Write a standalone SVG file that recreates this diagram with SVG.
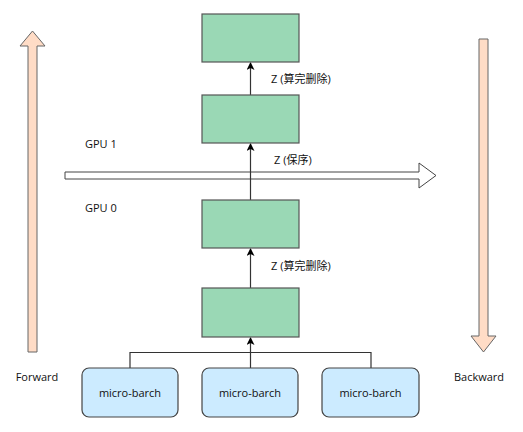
<svg xmlns="http://www.w3.org/2000/svg" width="523" height="432" viewBox="0 0 523 432">
<style>
.blk{fill:#9AD8B5;stroke:#555;stroke-width:1.2}
.mb{fill:#CCEBFF;stroke:#444;stroke-width:1.2}
.big{fill:#FFDCC6;stroke:#666;stroke-width:1}
.t{font-family:"Open Sans","Noto Sans CJK SC","Liberation Sans",sans-serif;font-size:11px;fill:#111}
.c{text-anchor:middle}
.ln{fill:none;stroke:#333;stroke-width:1.2}
</style>
<defs>
<marker id="ah" markerWidth="8" markerHeight="8" refX="7" refY="4" orient="auto" markerUnits="userSpaceOnUse">
<path d="M0,0 L8,4 L0,8 L2,4 Z" fill="#000"/>
</marker>
</defs>
<rect width="523" height="432" fill="#fff"/>
<g id="forward">
<path class="big" d="M28,352 L28,46 L20,46 L32.5,31 L45,46 L37,46 L37,352 Z"/>
<text class="t c" x="37" y="381">Forward</text>
</g>
<g id="backward">
<path class="big" d="M479,39 L488,39 L488,336 L496,336 L483.5,352 L471,336 L479,336 Z"/>
<text class="t c" x="479" y="381">Backward</text>
</g>
<g id="boundary">
<path d="M65,172 L419,172 L419,163 L436,175.5 L419,188 L419,179 L65,179 Z" fill="#fff" stroke="#444" stroke-width="1"/>
<text class="t" x="85" y="148">GPU 1</text>
<text class="t" x="85" y="212">GPU 0</text>
</g>
<g id="connectors">
<path class="ln" d="M250.5,95 L250.5,63" marker-end="url(#ah)"/>
<path class="ln" d="M250.5,200 L250.5,144" marker-end="url(#ah)"/>
<path class="ln" d="M250.5,288 L250.5,249" marker-end="url(#ah)"/>
<path class="ln" d="M250.5,368 L250.5,338" marker-end="url(#ah)"/>
<path class="ln" d="M130,368 L130,352.5 L371,352.5 L371,368" stroke="#555"/>
<text class="t" x="271" y="83">Z (算完删除)</text>
<text class="t" x="274" y="164">Z (保序)</text>
<text class="t" x="271" y="270">Z (算完删除)</text>
</g>
<g id="block4"><rect class="blk" x="202" y="14" width="97" height="48"/></g>
<g id="block3"><rect class="blk" x="202" y="95" width="97" height="48"/></g>
<g id="block2"><rect class="blk" x="202" y="200" width="97" height="48"/></g>
<g id="block1"><rect class="blk" x="202" y="288" width="97" height="49"/></g>
<g id="mb1"><rect class="mb" x="82" y="368" width="96" height="49" rx="7"/><text class="t c" x="130" y="397">micro-barch</text></g>
<g id="mb2"><rect class="mb" x="202" y="368" width="96" height="49" rx="7"/><text class="t c" x="250" y="397">micro-barch</text></g>
<g id="mb3"><rect class="mb" x="322" y="368" width="97" height="49" rx="7"/><text class="t c" x="370.5" y="397">micro-barch</text></g>
</svg>
